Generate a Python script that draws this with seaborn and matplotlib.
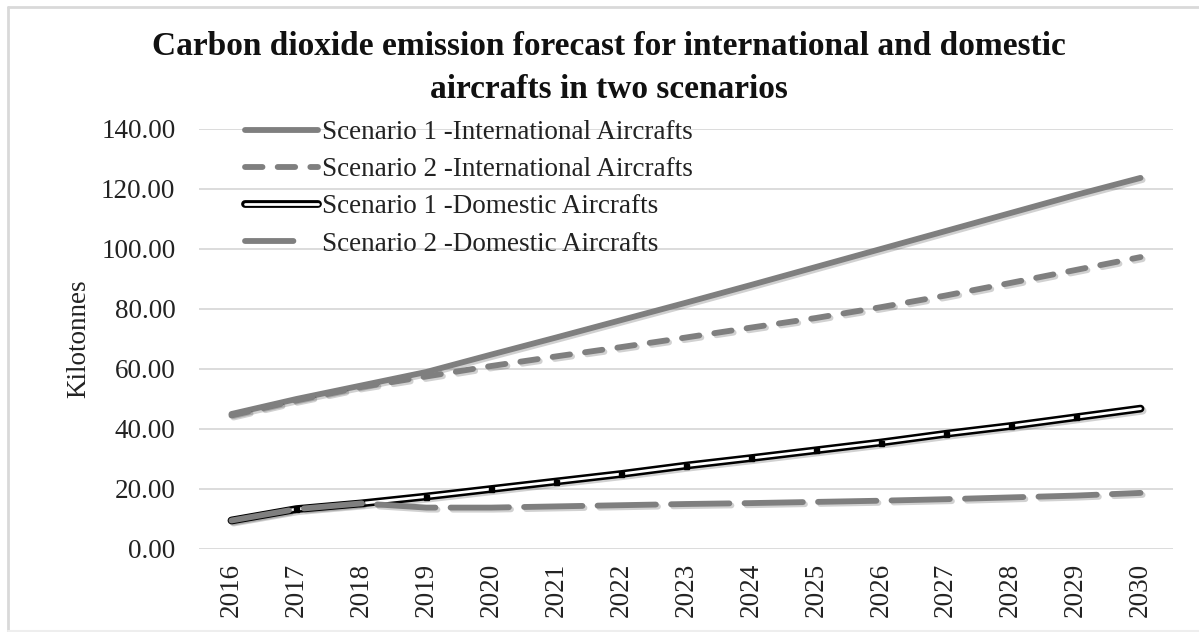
import numpy as np
import pandas as pd
import matplotlib
matplotlib.use("Agg")
import matplotlib.pyplot as plt
import matplotlib.patheffects as pe
from matplotlib.lines import Line2D
import seaborn as sns

# data (kilotonnes)
years = [2016, 2017, 2018, 2019, 2020, 2021, 2022, 2023, 2024, 2025, 2026, 2027, 2028, 2029, 2030]
s1_international = [45.0, 50.0, 54.5, 59.0, 64.8, 70.5, 76.3, 82.1, 88.0, 94.0, 100.0, 106.0, 112.0, 118.0, 123.7]
s2_international = [44.5, 49.5, 54.0, 57.5, 61.0, 64.2, 67.3, 70.5, 73.8, 77.0, 80.6, 84.5, 88.7, 93.0, 97.3]
s1_domestic = [9.5, 13.3, 15.2, 17.5, 20.0, 22.5, 25.0, 27.8, 30.3, 32.9, 35.5, 38.4, 41.0, 43.9, 46.8]
s2_domestic = [9.5, 13.3, 15.2, 13.8, 13.8, 14.2, 14.6, 15.0, 15.3, 15.7, 16.1, 16.6, 17.2, 17.8, 18.7]
labels = ["Scenario 1 -International Aircrafts",
          "Scenario 2 -International Aircrafts",
          "Scenario 1 -Domestic Aircrafts",
          "Scenario 2 -Domestic Aircrafts"]
yticks = [0, 20, 40, 60, 80, 100, 120, 140]

df = pd.DataFrame({"x": np.arange(len(years))})

sns.set_theme(style="white")
plt.rcParams['font.family'] = ['Liberation Serif', 'DejaVu Serif']
FS = 19.5
grey = "#7f7f7f"

fig = plt.figure(figsize=(11.99, 6.32), dpi=100)
ax = fig.add_axes([199 / 1199, 1 - 549 / 632, (1173 - 199) / 1199, (549 - 129) / 632])

shadow = pe.SimpleLineShadow(offset=(1.5, -1.5), shadow_color="black", alpha=0.18)

# Scenario 1 international: solid grey
sns.lineplot(x=df["x"], y=s1_international, ax=ax, color=grey, linewidth=4.2,
             solid_capstyle="round", path_effects=[shadow, pe.Normal()])
# Scenario 2 international: short dashes
sns.lineplot(x=df["x"], y=s2_international, ax=ax, color=grey, linewidth=4.2,
             path_effects=[shadow, pe.Normal()])
ax.lines[-1].set_linestyle((0, (3.0, 2.6)))
ax.lines[-1].set_dash_capstyle("round")
# Scenario 1 domestic: black outline with white core
sns.lineplot(x=df["x"], y=s1_domestic, ax=ax, color="white", linewidth=2.0,
             solid_capstyle="round",
             path_effects=[pe.SimpleLineShadow(offset=(1.5, -1.5), shadow_color="black", alpha=0.18, linewidth=5.6),
                           pe.Stroke(linewidth=5.6, foreground="black"), pe.Normal()])
ax.plot(df["x"][1:-1], s1_domestic[1:-1], linestyle="none", marker="s",
        markersize=3.6, color="black")
# Scenario 2 domestic: long dashes
sns.lineplot(x=df["x"], y=s2_domestic, ax=ax, color=grey, linewidth=4.2,
             path_effects=[shadow, pe.Normal()])
ax.lines[-1].set_linestyle((0, (10.0, 2.6)))
ax.lines[-1].set_dash_capstyle("round")

ax.set_xlim(-0.5, len(years) - 0.5)
ax.set_ylim(0, 140)
ax.set_yticks(yticks)
ax.set_yticklabels([f"{v:.2f}" for v in yticks], fontsize=FS)
ax.set_xticks(df["x"])
ax.set_xticklabels([str(y) for y in years], rotation=90, fontsize=FS)
ax.tick_params(axis="both", length=0, colors="#222222")
ax.tick_params(axis="y", pad=17)
ax.tick_params(axis="x", pad=10)
ax.grid(True, axis="y", color="#d9d9d9", linewidth=1.3)
ax.grid(False, axis="x")
for s in ax.spines.values():
    s.set_visible(False)
ax.set_xlabel("")
ax.set_ylabel("Kilotonnes", fontsize=FS, color="#222222", labelpad=7)

# legend
handles = []
for i, ln in enumerate([ax.lines[0], ax.lines[1], ax.lines[2], ax.lines[4]]):
    h = Line2D([], [])
    h.update_from(ln)
    if i == 2:
        h.set_path_effects([pe.Stroke(linewidth=5.6, foreground="black"), pe.Normal()])
    else:
        h.set_path_effects([])
    if i == 3:
        h.set_linestyle((0, (8.3, 20)))
    handles.append(h)
leg = ax.legend(handles, labels, loc="upper left", frameon=False,
                bbox_to_anchor=(245 / 1199, 1 - 120 / 632), bbox_transform=fig.transFigure,
                borderpad=0, borderaxespad=0, fontsize=FS, handlelength=2.7,
                handletextpad=0.15, labelspacing=0.45)
for t in leg.get_texts():
    t.set_color("#222222")

fig.text(0.508, 1 - 68 / 632, "Carbon dioxide emission forecast for international and domestic\naircrafts in two scenarios",
         ha="center", va="center", fontsize=24, fontweight="bold", color="#111111", linespacing=1.5)

# chart frame
fig.add_artist(Line2D([8 / 1199, 1], [1 - 7 / 632] * 2, color="#d9d9d9", linewidth=2, transform=fig.transFigure))
fig.add_artist(Line2D([8 / 1199] * 2, [1 - 7 / 632, 0], color="#d9d9d9", linewidth=2, transform=fig.transFigure))
fig.add_artist(Line2D([8 / 1199, 1], [1 / 632] * 2, color="#eeeeee", linewidth=1.5, transform=fig.transFigure))

fig.savefig("out.png", dpi=100)
